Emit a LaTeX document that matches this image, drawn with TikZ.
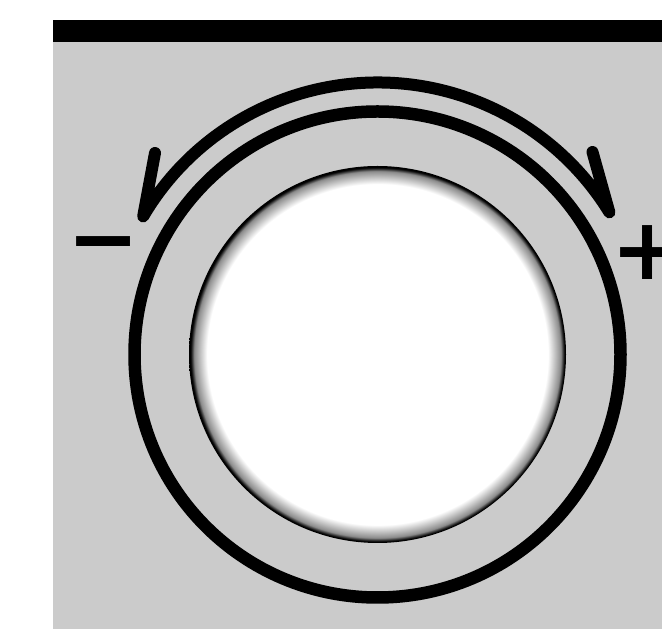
\documentclass[tikz,border=0pt]{standalone}
\usepackage{fontspec}
\newfontfamily\signfont{DejaVu Sans}
\usetikzlibrary{positioning}
\definecolor{panelgray}{RGB}{203,203,203}
\pgfdeclareradialshading{knobshade}{\pgfpoint{0bp}{0bp}}{color(0bp)=(white); color(22.6bp)=(white); color(24.3bp)=(black!45); color(24.8bp)=(black); color(50bp)=(black)}

\begin{document}
\begin{tikzpicture}[x=1pt, y=1pt,
    ring/.style={circle, draw, line width=12.5pt, minimum size=486pt, inner sep=0pt},
    knob/.style={circle, shade, shading=knobshade, minimum size=377pt, inner sep=0pt},
    turn/.style={line width=12pt, line cap=round, line join=round},
    sign/.style={inner sep=0pt, font=\signfont\bfseries\fontsize{86}{86}\selectfont}]
  \useasboundingbox (0,0) rectangle (662,629);
  \clip (0,0) rectangle (662,629);
  \fill[white] (0,0) rectangle (662,629);
  \fill[panelgray] (53,0) rectangle (662,587);
  \fill[black] (53,587) rectangle (662,609);

  \coordinate (hub) at (377.5,274.5);
  \node[ring] (ring) at (hub) {};
  \node[knob] (knob) at (hub) {};

  \coordinate (tipL) at ([shift={(149.5:272)}]hub);
  \coordinate (barbL) at (155,476);
  \coordinate (barbR) at (592.5,477);
  \draw[turn] (barbL) -- (tipL) arc[start angle=149.5, end angle=31.5, radius=272] -- (barbR);

  \node[sign] (minus) at (104,376) {−};
  \node[sign] (plus) at (648,376) {+};
\end{tikzpicture}
\end{document}
